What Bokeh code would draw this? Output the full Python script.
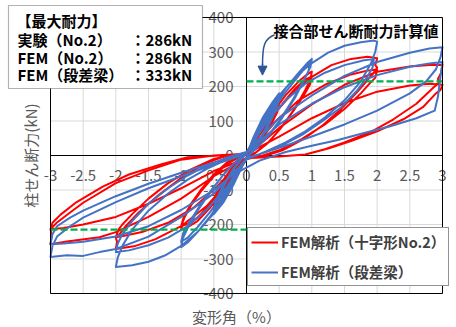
import math

from bokeh.embed import file_html
from bokeh.models import (Arrow, BoxAnnotation, FixedTicker, Label, Legend,
                          LegendItem, LinearAxis, NormalHead, Range1d)
from bokeh.plotting import figure
from bokeh.resources import INLINE

JP = "Noto Sans CJK JP"

# ---- axis ticks -------------------------------------------------------------
X_TICKS = [-3, -2.5, -2, -1.5, -1, -0.5, 0, 0.5, 1, 1.5, 2, 2.5, 3]
X_TICK_LABELS = ["-3", "-2.5", "-2", "-1.5", "-1", "-0.5", "0",
                 "0.5", "1", "1.5", "2", "2.5", "3"]
Y_TICKS = [-400, -300, -200, -100, 0, 100, 200, 300, 400]
Y_TICK_LABELS = ["-400", "-300", "-200", "-100", "0", "100", "200", "300", "400"]

# ---- maximum strengths (kN) ---------------------------------------------------
MAX_TEST_NO2 = 286
MAX_FEM_NO2 = 286
MAX_FEM_STEP = 333

# ---- calculated joint shear strength (kN) ---------------------------------------
CALC_POS_X = [0, 3]
CALC_POS_Y = [215, 215]
CALC_NEG_X = [-3, 0]
CALC_NEG_Y = [-215, -215]

# ---- FEM analysis, cruciform specimen No.2: drift (%) / column shear (kN) --------
RED_DRIFT = [
    0,
    0.1, 0.25, 0.4, 0.5, 0.47, 0.35, 0.2, 0.05,
    -0.05, -0.2, -0.35, -0.5, -0.47, -0.35, -0.2, -0.05,
    0.05, 0.2, 0.35, 0.5, 0.47, 0.35, 0.2, 0.05,
    -0.05, -0.2, -0.35, -0.5, -0.47, -0.35, -0.2, -0.05,
    0.05, 0.2, 0.4, 0.6, 0.8, 0.95, 1.0, 0.98, 0.9, 0.75, 0.55, 0.35, 0.15, 0,
    -0.15, -0.35, -0.55, -0.75, -0.92, -1.0, -0.98, -1.0, -0.95, -0.85, -0.7, -0.5, -0.3, -0.1, 0.05,
    0.15, 0.35, 0.55, 0.75, 0.9, 1.0, 0.97, 0.88, 0.72, 0.52, 0.32, 0.12, 0,
    -0.15, -0.35, -0.55, -0.75, -0.9, -1.0, -0.96, -0.85, -0.7, -0.5, -0.3, -0.1, 0.05,
    0.2, 0.4, 0.7, 1.0, 1.3, 1.6, 1.85, 2.0, 1.97, 2.0, 1.93, 1.88, 1.7, 1.45, 1.15, 0.85, 0.55, 0.3, 0,
    -0.1, -0.3, -0.6, -1.0, -1.4, -1.7, -2.0, -1.98, -2.0, -1.93, -1.85, -1.65, -1.35, -1.0, -0.65, -0.35, 0,
    0.2, 0.45, 0.8, 1.2, 1.6, 1.85, 2.0, 1.97, 1.9, 1.75, 1.5, 1.2, 0.85, 0.5, 0.25, 0,
    -0.2, -0.45, -0.8, -1.2, -1.6, -1.85, -2.0, -1.96, -1.9, -1.75, -1.5, -1.2, -0.85, -0.5, -0.25, 0,
    0.25, 0.5, 1.0, 1.5, 2.0, 2.5, 2.8, 3.0, 2.98, 2.93, 2.95, 2.85, 2.6, 2.25, 1.9, 1.5, 1.2, 0.9, 0.5, 0,
    -0.5, -1.0, -1.5, -2.0, -2.25, -2.75, -3.0, -2.98, -3.0, -2.9, -2.7, -2.5, -2.0, -1.5, -1.0, -0.5, 0,
    0.5, 1.0, 1.5, 2.0, 2.5, 2.8, 3.0, 2.97, 2.9, 2.7, 2.4, 2.0, 1.6, 1.25, 0.9, 0.5, 0,
    -0.5, -1.0, -1.5, -2.0, -2.5, -2.8, -3.0, -2.97, -2.85, -2.6, -2.2, -1.8, -1.3, -0.9, -0.4, 0,
]
RED_SHEAR = [
    0,
    45, 100, 143, 163, 135, 85, 38, 5,
    -25, -80, -125, -150, -120, -75, -32, -3,
    20, 75, 122, 152, 125, 80, 35, 3,
    -20, -72, -115, -140, -112, -70, -30, -2,
    15, 68, 125, 175, 215, 238, 243, 222, 190, 140, 85, 40, 10, -5,
    -45, -100, -150, -190, -210, -215, -198, -205, -180, -145, -105, -60, -25, -3, 5,
    45, 100, 150, 195, 220, 229, 205, 175, 130, 78, 35, 5, -8,
    -40, -92, -140, -180, -198, -205, -178, -140, -100, -55, -20, 0, 5,
    60, 115, 180, 228, 262, 280, 286, 282, 262, 255, 235, 225, 185, 135, 85, 45, 15, 0, -10,
    -25, -80, -145, -205, -243, -262, -271, -250, -238, -225, -205, -165, -115, -65, -25, -3, 5,
    45, 100, 160, 205, 235, 246, 249, 225, 212, 180, 135, 90, 48, 15, 0, -8,
    -40, -90, -150, -195, -222, -232, -237, -215, -200, -170, -125, -80, -40, -10, 0, 5,
    40, 80, 148, 205, 243, 258, 262, 263, 240, 222, 212, 195, 150, 105, 68, 38, 18, 3, -3, -8,
    -60, -125, -178, -222, -237, -249, -257, -230, -214, -194, -165, -137, -80, -43, -12, 0, 5,
    55, 108, 152, 185, 203, 208, 205, 190, 180, 140, 105, 70, 42, 20, 3, -3, -8,
    -45, -95, -140, -178, -200, -210, -214, -195, -172, -135, -90, -55, -25, -5, 0, 2,
]

# ---- FEM analysis, stepped-beam specimen: drift (%) / column shear (kN) ----------
BLUE_DRIFT = [
    0,
    0.1, 0.25, 0.4, 0.5, 0.47, 0.35, 0.2, 0.05,
    -0.05, -0.2, -0.35, -0.5, -0.47, -0.35, -0.2, -0.05,
    0.05, 0.2, 0.35, 0.5, 0.47, 0.35, 0.2, 0.05,
    -0.05, -0.2, -0.35, -0.5, -0.47, -0.35, -0.2, -0.05,
    0.05, 0.2, 0.4, 0.6, 0.8, 0.93, 1.0, 0.98, 0.9, 0.75, 0.55, 0.35, 0.15, 0,
    -0.15, -0.35, -0.55, -0.75, -0.9, -1.0, -0.98, -0.9, -0.75, -0.55, -0.35, -0.15, 0,
    0.15, 0.35, 0.55, 0.75, 0.9, 0.97, 0.95, 0.87, 0.72, 0.52, 0.32, 0.12, 0,
    -0.15, -0.35, -0.55, -0.75, -0.9, -1.0, -0.97, -0.88, -0.73, -0.53, -0.33, -0.13, 0,
    0.1, 0.25, 0.5, 0.75, 1.0, 1.25, 1.5, 1.75, 1.95, 2.0, 1.97, 1.9, 1.75, 1.5, 1.2, 0.9, 0.6, 0.3, 0,
    -0.1, -0.25, -0.5, -0.75, -1.0, -1.25, -1.5, -1.75, -2.0, -1.97, -1.9, -1.75, -1.5, -1.2, -0.9, -0.6, -0.3, 0,
    0.1, 0.3, 0.6, 0.9, 1.2, 1.5, 1.8, 1.95, 1.93, 1.85, 1.7, 1.45, 1.15, 0.85, 0.55, 0.25, 0,
    -0.1, -0.3, -0.6, -0.9, -1.2, -1.5, -1.8, -2.0, -1.97, -1.9, -1.75, -1.5, -1.2, -0.9, -0.6, -0.3, 0,
    0.1, 0.5, 1.0, 1.5, 2.0, 2.5, 2.8, 3.0, 2.97, 2.9, 2.75, 2.5, 2.0, 1.5, 1.0, 0.5, 0,
    -0.1, -0.5, -1.0, -1.5, -2.0, -2.25, -2.5, -2.75, -3.0, -2.97, -2.9, -2.7, -2.5, -2.0, -1.5, -1.0, -0.5, 0,
    0.1, 0.5, 1.0, 1.5, 2.0, 2.5, 2.8, 3.0, 2.97, 2.93, 2.88, 2.6, 2.2, 1.8, 1.4, 1.0, 0.6, 0.2, 0,
    -0.2, -0.5, -1.0, -1.5, -2.0, -2.5, -2.8, -3.0, -2.97, -2.9, -2.7, -2.5, -2.0, -1.5, -1.0, -0.5, 0,
]
BLUE_SHEAR = [
    0,
    50, 110, 155, 180, 150, 100, 45, 5,
    -25, -85, -135, -170, -140, -90, -40, -5,
    25, 88, 138, 170, 140, 92, 42, 3,
    -22, -80, -128, -160, -130, -85, -38, -3,
    20, 75, 140, 195, 240, 268, 280, 258, 225, 170, 110, 60, 20, -5,
    -55, -120, -175, -222, -252, -266, -242, -210, -160, -105, -55, -15, 5,
    50, 115, 172, 220, 255, 271, 245, 215, 165, 105, 55, 15, -5,
    -50, -110, -162, -208, -238, -250, -225, -195, -150, -98, -50, -12, 5,
    40, 100, 174, 228, 268, 298, 318, 328, 333, 330, 300, 265, 215, 160, 110, 70, 38, 12, -12,
    -40, -98, -168, -222, -262, -290, -308, -318, -323, -295, -262, -215, -160, -110, -70, -38, -12, 10,
    35, 95, 160, 208, 240, 262, 276, 280, 255, 228, 190, 140, 98, 60, 30, 8, -12,
    -32, -90, -155, -205, -238, -260, -275, -280, -255, -228, -190, -140, -95, -58, -28, -6, 10,
    30, 109, 174, 231, 271, 298, 310, 314, 285, 250, 215, 180, 130, 90, 55, 22, -8,
    -30, -110, -178, -235, -271, -280, -291, -289, -294, -262, -235, -205, -180, -135, -95, -60, -27, 5,
    25, 90, 150, 198, 233, 257, 267, 271, 230, 170, 130, 108, 85, 65, 45, 28, 10, -15, -35,
    -55, -100, -158, -205, -235, -250, -255, -257, -228, -205, -180, -160, -118, -82, -50, -20, 5,
]

RED = "#FF0000"
BLUE = "#4472C4"
GREEN = "#00B050"
GRAY = "#595959"

W, H = 456, 327
# the plotting area (-3..3 %, -400..400 kN) sits at x 50..442 px, y 17..293 px;
# the canvas-wide frame is given ranges that place it there
PX_PER_X = (442 - 50) / 6.0
PX_PER_Y = (293 - 17) / 800.0
x_lo = -3 - 50 / PX_PER_X
x_hi = 3 + (W - 442) / PX_PER_X
y_hi = 400 + 17 / PX_PER_Y
y_lo = -400 - (H - 293) / PX_PER_Y

p = figure(width=W, height=H, output_backend="svg", toolbar_location=None,
           x_range=Range1d(x_lo, x_hi), y_range=Range1d(y_lo, y_hi),
           x_axis_location=None, y_axis_location=None,
           min_border=0)
p.background_fill_color = "white"
p.border_fill_color = "white"
p.outline_line_color = None
p.grid.visible = False

# gridlines limited to the plotting area
p.segment(x0=X_TICKS, y0=[-400] * len(X_TICKS), x1=X_TICKS, y1=[400] * len(X_TICKS),
          line_color="#D9D9D9", line_width=1, level="image")
p.segment(x0=[-3] * len(Y_TICKS), y0=Y_TICKS, x1=[3] * len(Y_TICKS), y1=Y_TICKS,
          line_color="#D9D9D9", line_width=1, level="image")

# axes crossing at the origin
xaxis = LinearAxis(fixed_location=0, bounds=(-3, 3), ticker=FixedTicker(ticks=X_TICKS),
                   major_label_overrides={float(t): s for t, s in zip(X_TICKS, X_TICK_LABELS)})
yaxis = LinearAxis(fixed_location=0, bounds=(-400, 400), ticker=FixedTicker(ticks=Y_TICKS),
                   major_label_overrides={float(t): s for t, s in zip(Y_TICKS, Y_TICK_LABELS)})
for ax, standoff in ((xaxis, 14), (yaxis, 13)):
    ax.level = "underlay"
    ax.axis_line_color = "black"
    ax.axis_line_width = 1
    ax.major_tick_in = 0
    ax.major_tick_out = 0
    ax.minor_tick_in = 0
    ax.minor_tick_out = 0
    ax.major_label_standoff = standoff
    ax.major_label_text_font = JP
    ax.major_label_text_font_size = "15px"
    ax.major_label_text_color = GRAY
p.add_layout(xaxis, "below")
p.add_layout(yaxis, "left")

r_red = p.line(RED_DRIFT, RED_SHEAR, line_color=RED, line_width=2, line_join="round")
r_blue = p.line(BLUE_DRIFT, BLUE_SHEAR, line_color=BLUE, line_width=2, line_join="round")

p.line(CALC_POS_X, CALC_POS_Y, line_color=GREEN, line_width=2.2, line_dash="7 3")
p.line(CALC_NEG_X, CALC_NEG_Y, line_color=GREEN, line_width=2.2, line_dash="7 3")

# plotting-area border
p.quad(left=[-3], right=[3], bottom=[-400], top=[400], fill_color=None,
       line_color="black", line_width=1)

# pointer from the note to the dashed line
ARROW_COLOR = "#2F5597"
p.bezier(x0=[0.43], y0=[350], x1=[0.245], y1=[262],
         cx0=[0.27], cy0=[338], cx1=[0.245], cy1=[318],
         line_color=ARROW_COLOR, line_width=1.5)
p.add_layout(Arrow(x_start=0.245, y_start=266, x_end=0.245, y_end=233,
                   line_color=ARROW_COLOR, line_width=1.5,
                   end=NormalHead(size=9, fill_color=ARROW_COLOR,
                                  line_color=ARROW_COLOR)))


def canvas_label(text, cx, cy, size="15px", bold=False, color="black",
                 align="left", angle=0.0):
    """Place text at canvas pixel (cx, cy)."""
    lab = Label(x=cx, y=H - cy, x_units="screen", y_units="screen",
                text=text, text_font=JP, text_font_size=size,
                text_font_style="bold" if bold else "normal",
                text_color=color, text_align=align, text_baseline="middle",
                angle=angle)
    p.add_layout(lab)
    return lab


# maximum-strength note box
p.add_layout(BoxAnnotation(left=8, right=202, top=H - 5, bottom=H - 88,
                           left_units="screen", right_units="screen",
                           top_units="screen", bottom_units="screen",
                           fill_color="white", fill_alpha=1,
                           line_color="black", line_width=1.2, level="annotation"))
canvas_label("【最大耐力】", 16, 20, bold=True)
for row_y, name, val in ((39, "実験（No.2）", MAX_TEST_NO2),
                         (57, "FEM（No.2）", MAX_FEM_NO2),
                         (74, "FEM（段差梁）", MAX_FEM_STEP)):
    canvas_label(name, 17, row_y, bold=True)
    canvas_label(f"：{val}kN", 130, row_y, bold=True)

canvas_label("接合部せん断耐力計算値", 273, 30, bold=True)

# axis titles
canvas_label("柱せん断力(kN)", 30, 155, size="15px", color=GRAY, align="center",
             angle=math.pi / 2)
canvas_label("変形角（%）", 236, 316, size="15px", color=GRAY, align="center")

legend = Legend(items=[LegendItem(label="FEM解析（十字形No.2）", renderers=[r_red]),
                       LegendItem(label="FEM解析（段差梁）", renderers=[r_blue])],
                location=(247, H - 286), orientation="vertical")
legend.label_text_font = JP
legend.label_text_font_size = "14.5px"
legend.label_text_font_style = "bold"
legend.label_text_color = "#404040"
legend.glyph_width = 27
legend.glyph_height = 20
legend.label_height = 20
legend.label_standoff = 3
legend.padding = 3
legend.spacing = 9
legend.margin = 0
legend.border_line_color = "#262626"
legend.border_line_width = 1
legend.background_fill_color = "white"
legend.background_fill_alpha = 1
p.add_layout(legend)

open("out.html", "w").write(file_html(p, INLINE))
